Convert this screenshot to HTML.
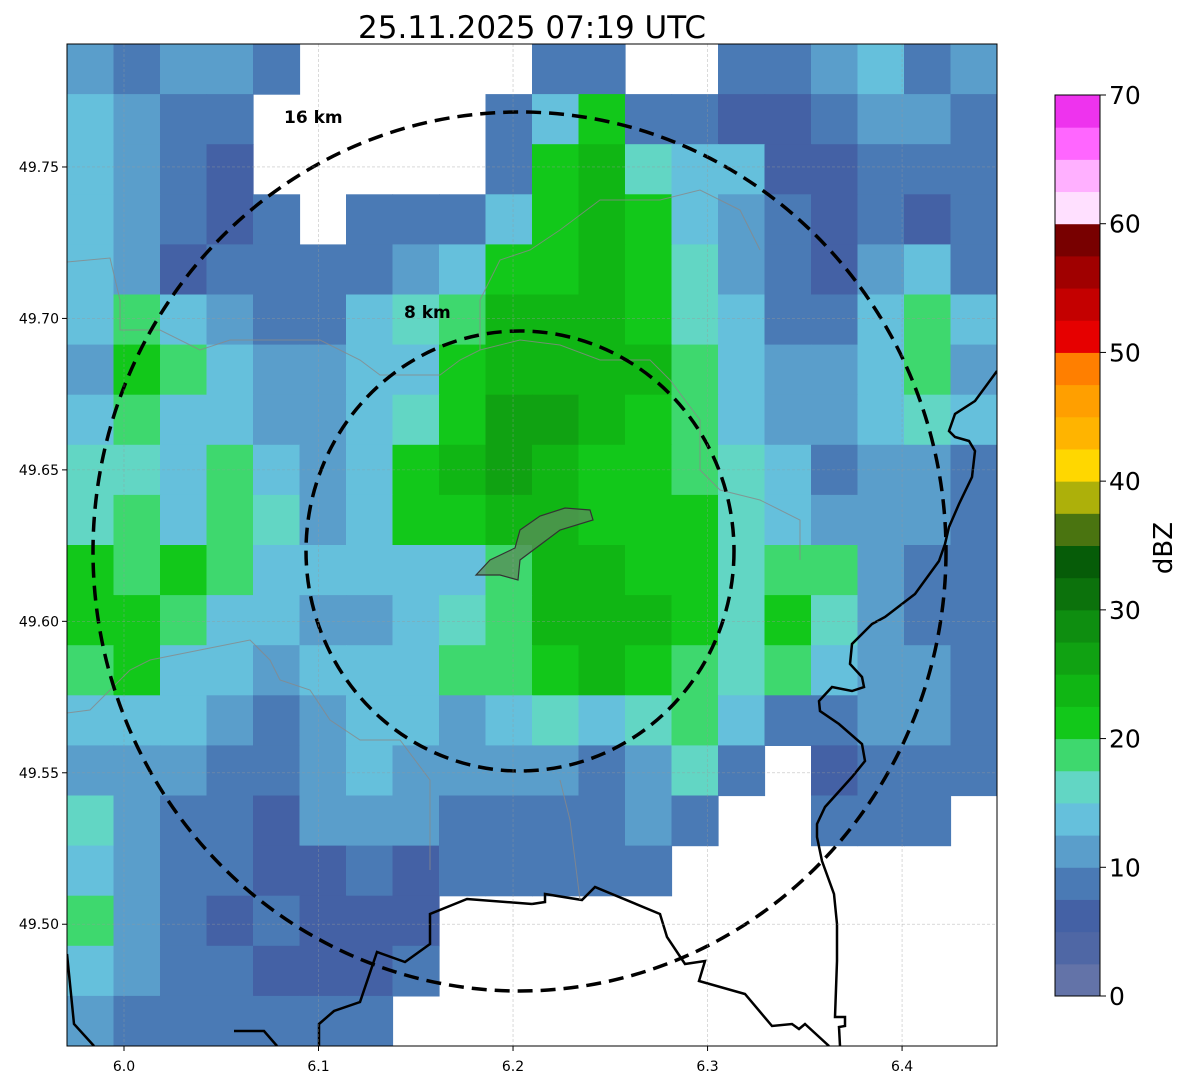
<!DOCTYPE html>
<html><head><meta charset="utf-8"><style>
body{margin:0;background:#fff;width:1188px;height:1084px;overflow:hidden;font-family:"DejaVu Sans","Liberation Sans",sans-serif}
svg{position:absolute;left:0;top:0}
</style></head><body>
<svg width="1188" height="1084" viewBox="0 0 1188 1084" id="chart" font-family="DejaVu Sans, Liberation Sans, sans-serif">
<defs><clipPath id="clip"><rect x="67" y="44" width="930" height="1002"/></clipPath></defs>
<text x="532" y="38" font-size="31" text-anchor="middle" fill="#000">25.11.2025 07:19 UTC</text>
<g id="map" clip-path="url(#clip)"></g>
<g id="overlay" clip-path="url(#clip)">
 <polygon points="476,575 490,560 515,548 520,530 540,516 565,508 590,510 593,520 560,530 540,545 520,560 518,580 500,575" fill="#5a8c5a" fill-opacity="0.75" stroke="#333" stroke-width="1.2"/>
 <path fill="none" stroke="#000" stroke-width="2.5" d="M997,371 L975,401 L955,414 L949,431 L955,437 L969,441 L975,451 L972,477 L959,504 L949,527 L945,544 L939,561 L915,594 L885,617 L872,624 L852,644 L850,664 L862,677 L864,687 L852,691 L832,687 L819,701 L820,711 L839,724 L862,744 L865,761 L852,777 L825,807 L817,824 L817,837 L822,861 L834,894 L837,924 L837,961 L835,1017 L845,1017 L845,1026 L839,1027 L840,1046"/>
 <path fill="none" stroke="#000" stroke-width="2.5" d="M532,904 L545,902 L545,894 L582,900 L595,887 L660,914 L667,937 L685,964 L705,961 L699,981 L745,994 L772,1026 L792,1024 L799,1029 L805,1024 L829,1046"/>
 <path fill="none" stroke="#000" stroke-width="2.5" d="M532,904 L467,899 L430,914 L430,944 L405,962 L377,952 L360,1002 L334,1011 L319,1024 L319,1046 M234,1031 L264,1031 L277,1046 M67,954 L74,1024 L94,1046"/>
 <path fill="none" stroke="#888" stroke-width="1" opacity="0.8" d="M67,262 L110,258 L120,300 L120,330 L160,330 L200,350 L230,340 L320,340 L360,360 L380,375 L440,375 L460,360 L480,350 L520,340 L560,345 L600,360 L650,360 L670,380 L700,420 L700,470 L720,490 L760,500 L800,520 L800,560 M480,350 L480,300 L500,260 L530,250 L560,230 L600,200 L660,200 L700,190 L740,210 L760,250 M67,713 L90,710 L110,690 L130,670 L150,660 L200,650 L250,640 L270,660 L280,680 L310,690 L330,720 L360,740 L400,740 L430,780 L430,870 M560,780 L570,820 L580,900"/>
 <ellipse cx="519.5" cy="551.5" rx="426.5" ry="439.5" fill="none" stroke="#000" stroke-width="3.5" stroke-dasharray="15 8"/>
 <ellipse cx="520" cy="551" rx="214" ry="220" fill="none" stroke="#000" stroke-width="3.5" stroke-dasharray="15 8"/>
 <text x="284" y="123" font-size="17" font-weight="bold">16 km</text>
 <text x="404" y="318" font-size="17" font-weight="bold">8 km</text>
</g>
<g id="grid"></g>
<rect x="67" y="44" width="930" height="1002" fill="none" stroke="#000" stroke-width="1"/>
<g id="xaxis"></g>
<g id="yaxis"></g>
<g id="cbar"></g>
<text transform="translate(1172,548) rotate(-90)" font-size="26" text-anchor="middle">dBZ</text>
</svg>
<script>
// data arrays
const xTicks = [6.0, 6.1, 6.2, 6.3, 6.4];
const yTicks = [49.75, 49.70, 49.65, 49.60, 49.55, 49.50];
const cbarTicks = [0, 10, 20, 30, 40, 50, 60, 70];
const codeDbz = {"1":6,"2":8.5,"3":11,"4":13.5,"5":16,"6":18.5,"7":21,"8":23.5,"9":26};
const gridRows = [
"32332.....22..223423",
"4322.....24722112332",
"4321.....27854411222",
"43212.22247874321212",
"43122223477875321342",
"46432245688875422464",
"37643344788886433463",
"46443345799876433454",
"55464347898776542332",
"56465347788777543332",
"76764444468877566322",
"77644334568887575322",
"67443444667876564332",
"44432344345456422332",
"333223433332352.1222",
"53221333222232..222.",
"4322112122222.......",
"63212111............",
"43221112............",
"3222222............."
];
const bandColors = ["#6373a8","#4f67a5","#4461a5","#4a7ab5","#5a9ecb","#65c0dc","#62d6c4","#3ed86e","#12c81a","#10b614","#10a212","#0e8e10","#0c720c","#065c08","#4a7410","#adb00a","#ffd700","#ffb400","#ff9f00","#ff7f00","#e60000","#c40000","#a00000","#780000","#ffe0ff","#ffb0ff","#ff66ff","#ee33ee"];
const NS="http://www.w3.org/2000/svg";
const X0=67,X1=997,Y0=44,Y1=1046;
const lonMin=5.9707,lonMax=6.4488,latMin=49.4598,latMax=49.7906;
function xs(lon){return X0+(lon-lonMin)/(lonMax-lonMin)*(X1-X0);}
function ys(lat){return Y1-(lat-latMin)/(latMax-latMin)*(Y1-Y0);}
const cbTop=95,cbBot=996;
function cy(v){return cbBot-(v/70)*(cbBot-cbTop);}
function colorFor(d){return bandColors[Math.min(27,Math.floor(d/2.5))];}
const map=document.getElementById('map');
const nR=gridRows.length,nC=20,cw=(X1-X0)/nC,ch=(Y1-Y0)/nR;
gridRows.forEach((row,r)=>{for(let c=0;c<nC;c++){const k=row[c];if(!codeDbz[k])continue;
 const el=document.createElementNS(NS,'rect');
 el.setAttribute('x',X0+c*cw);el.setAttribute('y',Y0+r*ch);el.setAttribute('width',cw+0.6);el.setAttribute('height',ch+0.6);
 el.setAttribute('fill',colorFor(codeDbz[k]));
 
 
 map.appendChild(el);}});
const grid=document.getElementById('grid'),xa=document.getElementById('xaxis'),ya=document.getElementById('yaxis');
xTicks.forEach(t=>{const x=xs(t);
 const l=document.createElementNS(NS,'line');l.setAttribute('x1',x);l.setAttribute('x2',x);l.setAttribute('y1',Y0);l.setAttribute('y2',Y1);l.setAttribute('stroke','#999');l.setAttribute('stroke-width','0.6');l.setAttribute('stroke-dasharray','3 2');l.setAttribute('opacity','0.6');
 
 
 grid.appendChild(l);
 const tk=document.createElementNS(NS,'line');tk.setAttribute('x1',x);tk.setAttribute('x2',x);tk.setAttribute('y1',Y1);tk.setAttribute('y2',Y1+5);tk.setAttribute('stroke','#000');
 
 
 xa.appendChild(tk);
 const tx=document.createElementNS(NS,'text');tx.setAttribute('x',x);tx.setAttribute('y',1071);tx.setAttribute('font-size','14');tx.setAttribute('text-anchor','middle');tx.textContent=t.toFixed(1);
 
 
 xa.appendChild(tx);});
yTicks.forEach(t=>{const y=ys(t);
 const l=document.createElementNS(NS,'line');l.setAttribute('x1',X0);l.setAttribute('x2',X1);l.setAttribute('y1',y);l.setAttribute('y2',y);l.setAttribute('stroke','#999');l.setAttribute('stroke-width','0.6');l.setAttribute('stroke-dasharray','3 2');l.setAttribute('opacity','0.6');
 
 
 grid.appendChild(l);
 const tk=document.createElementNS(NS,'line');tk.setAttribute('x1',X0-5);tk.setAttribute('x2',X0);tk.setAttribute('y1',y);tk.setAttribute('y2',y);tk.setAttribute('stroke','#000');
 
 
 ya.appendChild(tk);
 const tx=document.createElementNS(NS,'text');tx.setAttribute('x',X0-8);tx.setAttribute('y',y+5);tx.setAttribute('font-size','14');tx.setAttribute('text-anchor','end');tx.textContent=t.toFixed(2);
 
 
 ya.appendChild(tx);});
const cb=document.getElementById('cbar');
bandColors.forEach((col,i)=>{const a=i*2.5,b=a+2.5;
 const r=document.createElementNS(NS,'rect');r.setAttribute('x',1055);r.setAttribute('y',cy(b));r.setAttribute('width',45);r.setAttribute('height',cy(a)-cy(b)+0.5);r.setAttribute('fill',col);
 
 
 cb.appendChild(r);});
const fr=document.createElementNS(NS,'rect');fr.setAttribute('x',1055);fr.setAttribute('y',cbTop);fr.setAttribute('width',45);fr.setAttribute('height',cbBot-cbTop);fr.setAttribute('fill','none');fr.setAttribute('stroke','#000');


cb.appendChild(fr);
cbarTicks.forEach(t=>{const y=cy(t);
 const tk=document.createElementNS(NS,'line');tk.setAttribute('x1',1100);tk.setAttribute('x2',1106);tk.setAttribute('y1',y);tk.setAttribute('y2',y);tk.setAttribute('stroke','#000');
 
 
 cb.appendChild(tk);
 const tx=document.createElementNS(NS,'text');tx.setAttribute('x',1109);tx.setAttribute('y',y+9);tx.setAttribute('font-size','25');tx.textContent=t;
 
 
 cb.appendChild(tx);});
</script>
</body></html>
